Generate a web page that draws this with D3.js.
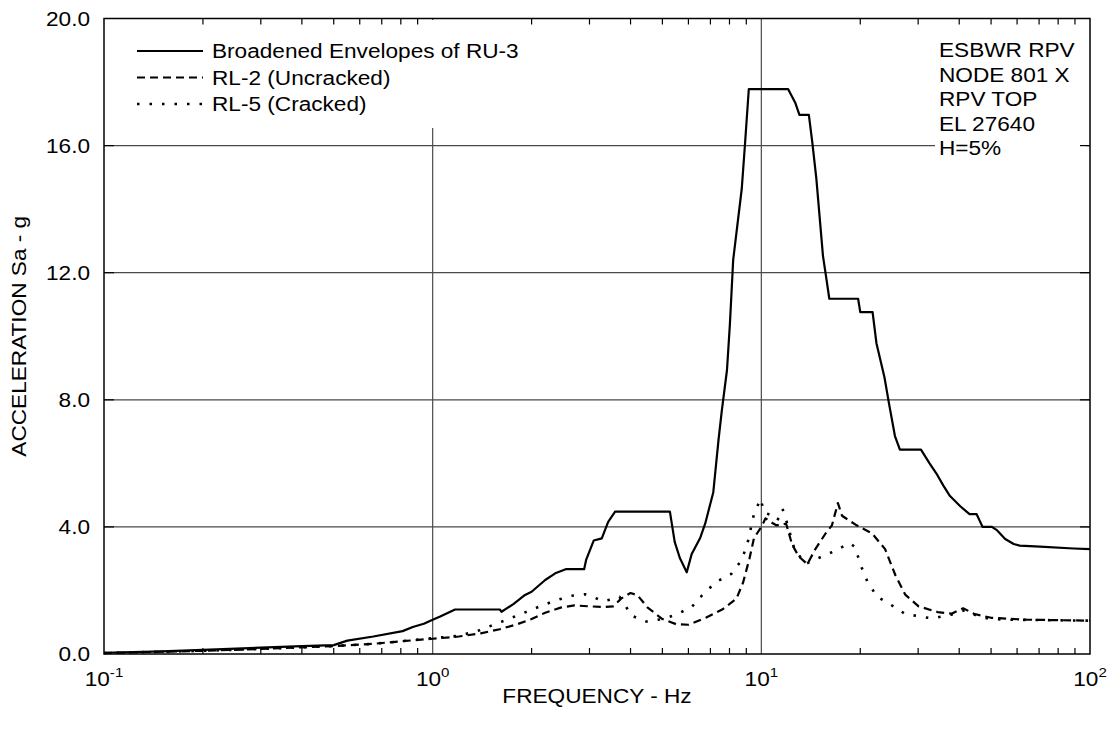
<!DOCTYPE html>
<html><head><meta charset="utf-8">
<script src="https://cdn.jsdelivr.net/npm/d3@7/dist/d3.min.js"></script>
<style>
body{margin:0;background:#fff}
svg{display:block}
text{font-family:"Liberation Sans",Arial,Helvetica,sans-serif;fill:#000}
</style>
</head><body>
<svg id="chart" width="1108" height="730"></svg>
<script>
// ---------- data ----------
const ru3Freq = [0.1,0.15,0.2,0.3,0.4,0.5,0.55,0.66,0.81,0.87,0.94,1.0,1.05,1.17,1.6,1.62,1.76,1.91,2.0,2.2,2.36,2.54,2.89,2.93,3.09,3.27,3.42,3.59,5.27,5.45,5.65,5.93,6.14,6.52,6.75,7.14,7.41,7.58,7.86,8.02,8.21,8.41,8.72,8.93,9.16,12.06,12.68,13.06,13.95,14.28,14.7,15.4,15.8,16.1,19.7,20.0,21.8,22.4,23.7,24.5,25.5,26.4,30.6,32.5,34.1,35.8,37.5,40.3,43.0,45.2,47.1,50.3,52.2,55.2,58.6,61.1,70.4,89.1,100];
const ru3Acc  = [0.04,0.08,0.13,0.20,0.25,0.28,0.42,0.55,0.72,0.85,0.95,1.08,1.17,1.40,1.40,1.33,1.57,1.86,1.96,2.33,2.54,2.67,2.67,2.96,3.57,3.64,4.16,4.48,4.48,3.53,3.02,2.57,3.15,3.66,4.11,5.08,6.75,7.65,8.93,10.35,12.40,13.30,14.65,16.13,17.78,17.78,17.35,16.97,16.97,16.13,14.97,12.53,11.76,11.18,11.18,10.76,10.76,9.78,8.70,7.84,6.86,6.43,6.43,6.0,5.68,5.30,4.97,4.65,4.40,4.40,4.0,4.0,3.89,3.62,3.46,3.41,3.38,3.32,3.30];

const rl2Freq = [0.1,0.2,0.3,0.4,0.5,0.66,0.8,1.0,1.2,1.4,1.6,1.8,2.0,2.2,2.45,2.7,3.0,3.3,3.55,3.75,4.0,4.2,4.5,5.0,5.5,6.0,6.8,7.6,8.4,8.8,9.2,9.5,10.0,10.3,10.7,11.1,11.9,12.4,13.0,13.8,14.6,15.7,16.4,17.1,17.6,19.5,21.7,23.8,25.6,27.4,30.1,34.4,37.9,41.1,44.5,50,64,100];
const rl2Acc  = [0.03,0.10,0.16,0.21,0.25,0.32,0.40,0.48,0.55,0.65,0.78,0.93,1.10,1.30,1.46,1.53,1.50,1.48,1.50,1.75,1.92,1.85,1.47,1.10,0.94,0.92,1.15,1.40,1.74,2.25,3.00,3.65,4.00,4.27,4.15,4.05,4.10,3.45,3.07,2.83,3.30,3.80,4.05,4.75,4.35,4.05,3.80,3.30,2.47,1.87,1.50,1.32,1.27,1.44,1.26,1.14,1.08,1.05];

const rl5Freq = [0.1,0.2,0.3,0.4,0.5,0.66,0.8,1.0,1.2,1.39,1.55,1.72,1.91,2.12,2.36,2.64,2.91,3.1,3.3,3.5,3.7,3.85,4.0,4.47,5.0,5.45,6.14,6.66,7.3,8.1,8.7,9.06,9.5,9.95,10.2,10.6,11.2,11.6,12.0,12.6,13.6,15.3,16.8,18.5,19.3,20.0,21.0,22.5,24.7,27.4,33,37.9,41.5,46.8,55,100];
const rl5Acc  = [0.03,0.10,0.16,0.21,0.25,0.32,0.40,0.50,0.57,0.75,0.94,1.12,1.31,1.50,1.68,1.83,1.88,1.78,1.66,1.72,1.80,1.55,1.22,1.02,1.10,1.22,1.48,1.89,2.27,2.52,2.95,3.45,4.41,4.88,4.45,4.39,4.21,4.57,4.09,3.31,2.83,3.07,3.25,3.49,3.37,2.83,2.29,1.80,1.56,1.26,1.12,1.24,1.38,1.14,1.08,1.05];

const yTicks = [0,4,8,12,16,20];
const xDecades = [-1,0,1,2];
const legendLabels = ["Broadened Envelopes of RU-3","RL-2 (Uncracked)","RL-5 (Cracked)"];
const noteLines = ["ESBWR RPV","NODE 801 X","RPV TOP","EL 27640","H=5%"];
const xTitle = "FREQUENCY - Hz";
const yTitle = "ACCELERATION Sa - g";

// ---------- layout ----------
const m = {l:104, r:1090, t:18.5, b:654};
const SX = 1.16;   // glyph widening of the original's font
const FS = 19.5;

const svg = d3.select("#chart");
const x = d3.scaleLog().domain([0.1,100]).range([m.l,m.r]);
const y = d3.scaleLinear().domain([0,20]).range([m.b,m.t]);

function label(g, px, py, str, anchor, rot){
  return g.append("text")
    .attr("transform", `translate(${px},${py})` + (rot?` rotate(${rot})`:"") + ` scale(${SX},1)`)
    .attr("text-anchor", anchor||"start")
    .style("font-size", FS+"px")
    .text(str);
}

svg.append("rect").attr("width",1108).attr("height",730).attr("fill","#fff");

// grid
const grid = svg.append("g").attr("stroke","#4a4a4a").attr("stroke-width",1.2);
grid.selectAll("line.h").data(yTicks.filter(v=>v>0&&v<20)).enter().append("line")
  .attr("x1",m.l).attr("x2",m.r).attr("y1",d=>y(d)).attr("y2",d=>y(d));
grid.selectAll("line.v").data([1,10]).enter().append("line")
  .attr("x1",d=>x(d)).attr("x2",d=>x(d)).attr("y1",m.t).attr("y2",m.b);

// curves
const line = d3.line().x(d=>x(d[0])).y(d=>y(d[1]));
const series = [
  {f:ru3Freq, a:ru3Acc, dash:null, w:2.2},
  {f:rl2Freq, a:rl2Acc, dash:"8,5", w:2.2},
  {f:rl5Freq, a:rl5Acc, dash:"2.5,10", w:2.6}
];
series.forEach(s=>{
  svg.append("path").datum(s.f.map((f,i)=>[f,s.a[i]]))
    .attr("d",line).attr("fill","none").attr("stroke","#000")
    .attr("stroke-width",s.w).attr("stroke-linejoin","round")
    .attr("stroke-dasharray",s.dash);
});

// legend box (masks grid)
svg.append("rect").attr("x",126).attr("y",m.t+1.5).attr("width",405).attr("height",108).attr("fill","#fff");
const lg = svg.append("g");
const legY = [51,77.5,104];
series.forEach((s,i)=>{
  lg.append("line").attr("x1",137).attr("x2",203).attr("y1",legY[i]).attr("y2",legY[i])
    .attr("stroke","#000").attr("stroke-width",s.w).attr("stroke-dasharray",s.dash);
  label(lg,212,legY[i]+7,legendLabels[i]);
});

// annotation box
svg.append("rect").attr("x",935).attr("y",m.t+3).attr("width",151).attr("height",143).attr("fill","#fff");
const ng = svg.append("g");
noteLines.forEach((t,i)=> label(ng,939,57+i*24.6,t));

// ticks
const tk = svg.append("g").attr("stroke","#000").attr("stroke-width",1.2);
const minor = [];
xDecades.slice(0,-1).forEach(e=>{ for(let k=2;k<=9;k++) minor.push(k*Math.pow(10,e)); });
minor.forEach(f=>{
  tk.append("line").attr("x1",x(f)).attr("x2",x(f)).attr("y1",m.b).attr("y2",m.b-6);
  tk.append("line").attr("x1",x(f)).attr("x2",x(f)).attr("y1",m.t).attr("y2",m.t+6);
});
yTicks.filter(v=>v>0&&v<20).forEach(v=>{
  tk.append("line").attr("x1",m.l).attr("x2",m.l+10).attr("y1",y(v)).attr("y2",y(v));
  tk.append("line").attr("x1",m.r).attr("x2",m.r-10).attr("y1",y(v)).attr("y2",y(v));
});

// frame
svg.append("rect").attr("x",m.l).attr("y",m.t).attr("width",m.r-m.l).attr("height",m.b-m.t)
  .attr("fill","none").attr("stroke","#000").attr("stroke-width",1.5);

// y tick labels
const yl = svg.append("g");
yTicks.forEach(v=> label(yl,90,y(v)+7,d3.format(".1f")(v),"end"));

// x tick labels with exponents
const xl = svg.append("g");
xDecades.forEach(e=>{
  const t = xl.append("text")
    .attr("transform",`translate(${x(Math.pow(10,e))},686) scale(${SX},1)`)
    .attr("text-anchor","middle").style("font-size",FS+"px");
  t.append("tspan").text("10");
  t.append("tspan").attr("dy",-9).style("font-size","13px").text(String(e));
});

// axis titles
label(svg,(m.l+m.r)/2,703,xTitle,"middle");
label(svg,26,(m.t+m.b)/2,yTitle,"middle",-90);
</script>
</body></html>
